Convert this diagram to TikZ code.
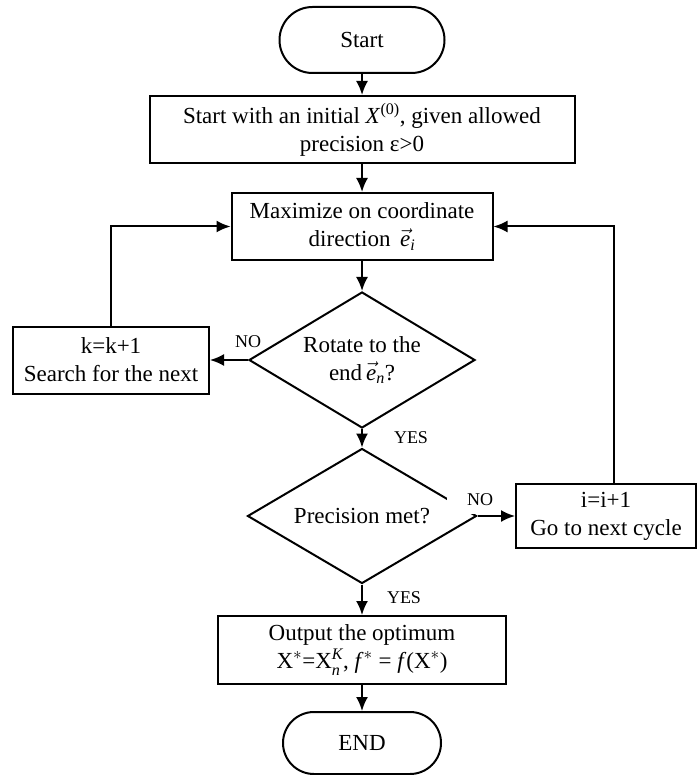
\documentclass[tikz,border=0pt]{standalone}
\usepackage{amsmath}
\usepackage{fontspec}
\setmainfont{Liberation Serif}
\usetikzlibrary{arrows.meta,shapes.geometric}
\begin{document}
\begin{tikzpicture}[x=1pt,y=-1pt,
  every node/.style={font=\fontsize{23}{28}\selectfont},
  box/.style={draw, line width=2pt, rectangle, align=center, inner sep=0pt},
  term/.style={draw, line width=2pt, rectangle, inner sep=0pt},
  dec/.style={draw, line width=2pt, diamond, inner sep=0pt, align=center},
  lbl/.style={font=\fontsize{18}{20}\selectfont, inner sep=0pt},
  conn/.style={line width=2pt, -{Latex[length=14pt,width=12pt]}},
]
\useasboundingbox (0,0) rectangle (698,775);
\fill[white] (0,0) rectangle (698,775);

\node[term, rounded corners=33pt, minimum width=165pt, minimum height=66pt] (start) at (362,40) {Start};
\node[box, minimum width=425pt, minimum height=67pt] (init) at (362,129.5)
  {Start with an initial \textit{X}\textsuperscript{(0)}, given allowed\\precision ε>0};
\node[box, minimum width=261pt, minimum height=67pt] (max) at (362,226.5)
  {Maximize on coordinate\\direction\, $\vec{\textit{e}}_{\textit{i}}$};
\node[dec, aspect=1.66, minimum width=226pt, minimum height=136pt] (rot) at (362,360)
  {Rotate to the\\end\,$\vec{\textit{e}}_{\textit{n}}$?};
\node[box, minimum width=196pt, minimum height=67pt] (kbox) at (111,360)
  {k=k+1\\Search for the next};
\node[dec, aspect=1.7, minimum width=229pt, minimum height=135pt] (prec) at (362,516)
  {Precision met?};
\node[box, minimum width=180pt, minimum height=64pt] (ibox) at (606,516)
  {i=i+1\\Go to next cycle};
\node[box, minimum width=288pt, minimum height=68pt] (out) at (362,650)
  {Output the optimum\\X$^*$=X$_{\textit{n}}^{\textit{K}}$, \textit{f}$^*$ = \textit{f}(X$^*$)};
\node[term, rounded corners=31pt, minimum width=158pt, minimum height=62pt] (end) at (362,743) {END};

\node[lbl] (no1) at (248,342) {NO};
\node[lbl] (yes1) at (411,438) {YES};
\node[lbl, fill=white, anchor=west, minimum height=28pt] (no2) at (447,500) {\hspace{20pt}NO\hspace{3pt}};
\node[lbl] (yes2) at (404,598) {YES};

\draw[conn] (start) -- (init);
\draw[conn] (init) -- (max);
\draw[conn] (max) -- (rot);
\draw[conn] (rot) -- (prec);
\draw[conn] (prec) -- (out);
\draw[conn] (out) -- (end);
\draw[conn] (rot.west) -- (kbox.east);
\draw[conn] (prec.east) -- (ibox.west);
\draw[conn] (kbox.north) |- (max.west);
\draw[conn] ([xshift=8pt]ibox.north) |- (max.east);
\end{tikzpicture}
\end{document}
